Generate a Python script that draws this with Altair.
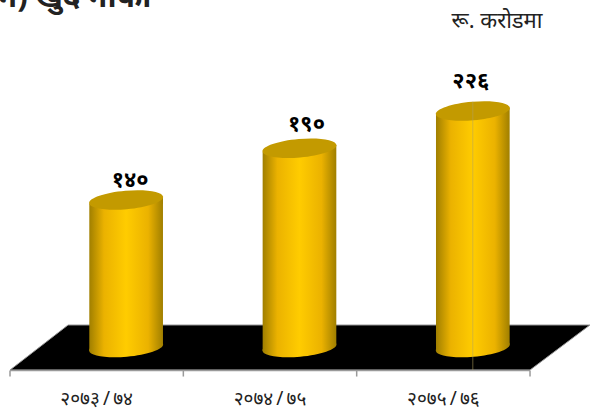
import altair as alt
import pandas as pd

# Net profit by fiscal year, in crore rupees
years = ["२०७३\u2009/\u2009७४", "२०७४\u2009/\u2009७५", "२०७५\u2009/\u2009७६"]
profit = [140, 190, 226]
value_labels = ["१४०", "१९०", "२२६"]
heading = "ग) खुद नाफा"
unit_note = "रू. करोडमा"

FONT = "Noto Sans"
X_DOMAIN = [-0.0577, 3.346]
Y_DOMAIN = [-60.9, 333.3]
DEPTH = 0.17      # shift of the columns towards the back of the floor
HALF_WIDTH = 0.2125
TILT = 3.2        # rise of the rim across half a column, in value units
FOOT = -2.5       # where the column feet stand on the floor

x_scale = alt.Scale(domain=X_DOMAIN, nice=False, zero=False)
y_scale = alt.Scale(domain=Y_DOMAIN, nice=False, zero=False)
X = lambda f: alt.X(f, type="quantitative", scale=x_scale, axis=None)
Y = lambda f: alt.Y(f, type="quantitative", scale=y_scale, axis=None)

body_fill = alt.Gradient(
    gradient="linear", x1=0, x2=1, y1=0, y2=0,
    stops=[
        alt.GradientStop(offset=0, color="#a07f00"),
        alt.GradientStop(offset=0.2, color="#ebb200"),
        alt.GradientStop(offset=0.5, color="#ffcc00"),
        alt.GradientStop(offset=0.8, color="#ebb200"),
        alt.GradientStop(offset=1, color="#a07f00"),
    ],
)
RIM = "M-1,0.087A1,0.25,-5,1,1,1,-0.087A1,0.25,-5,1,1,-1,0.087Z"
RIM_SIZE = 5476

# Floor of the plot, a parallelogram receding to the right
floor = pd.DataFrame({"v": [-24.2, 19.3], "left": [0, 0.335], "right": [3, 3.346]})
floor_mark = alt.Chart(floor).mark_area(
    orient="horizontal", color="black", stroke="#9a9a9a", strokeWidth=1
).encode(y=Y("v"), x=X("left"), x2="right")

# Front edge with tick marks at the category boundaries
edge = alt.Chart(pd.DataFrame({"a": [0], "b": [3], "v": [-24.6]})).mark_rule(
    color="#9a9a9a", strokeWidth=1.5
).encode(x=X("a"), x2="b", y=Y("v"))
ticks = alt.Chart(pd.DataFrame({"a": [0, 1, 2, 3], "lo": [-24.6] * 4, "hi": [-30.5] * 4})).mark_rule(
    color="#9a9a9a", strokeWidth=1.5
).encode(x=X("a"), y=Y("lo"), y2="hi")

centres = [i + 0.5 + DEPTH for i in range(len(profit))]

# Column sides: a slanted band from the floor up to the value
sides = pd.DataFrame(
    [
        {"year": years[i], "x": c + s * HALF_WIDTH, "top": profit[i] + s * TILT, "base": FOOT + s * TILT}
        for i, c in enumerate(centres)
        for s in (-1, 1)
    ]
)
side_marks = alt.layer(
    *[
        alt.Chart(sides[sides.year == y]).mark_area(fill=body_fill, opacity=1).encode(
            x=X("x"), y=Y("top"), y2="base"
        )
        for y in years
    ]
)

ends = pd.DataFrame({"x": centres, "v": profit, "foot": [FOOT] * 3})
bottoms = alt.layer(
    *[
        alt.Chart(ends.iloc[[i]]).mark_point(
            shape=RIM, size=RIM_SIZE, filled=True, fill=body_fill, opacity=1
        ).encode(x=X("x"), y=Y("foot"))
        for i in range(len(profit))
    ]
)
tops = alt.Chart(ends).mark_point(
    shape=RIM, size=RIM_SIZE, filled=True, fill="#c39a00", opacity=1
).encode(x=X("x"), y=Y("v"))

# Hairline through the last column
seam = alt.Chart(pd.DataFrame({"x": [centres[2]], "a": [profit[2] + 9], "b": [-24.2]})).mark_rule(
    color="#b0a060", strokeWidth=0.7, opacity=0.8
).encode(x=X("x"), y=Y("a"), y2="b")


def value_label(i, dx, dy):
    row = pd.DataFrame({"x": [centres[i]], "v": [profit[i]], "t": [value_labels[i]]})
    return alt.Chart(row).mark_text(
        font=FONT, fontSize=22, fontWeight="bold", color="black", dx=dx, dy=dy
    ).encode(x=X("x"), y=Y("v"), text="t:N")


year_labels = alt.Chart(
    pd.DataFrame({"x": [i + 0.5 for i in range(3)], "t": years})
).mark_text(font=FONT, fontSize=19, color="#222222").encode(
    x=X("x"), y=alt.value(399), text="t:N"
)

title_text = alt.Chart(pd.DataFrame({"t": [heading]})).mark_text(
    font=FONT, fontSize=31, fontWeight="bold", align="left", baseline="alphabetic", color="#222222"
).encode(x=alt.value(-2), y=alt.value(7), text="t:N")

note_text = alt.Chart(pd.DataFrame({"t": [unit_note]})).mark_text(
    font=FONT, fontSize=22, color="#222222"
).encode(x=alt.value(497), y=alt.value(21), text="t:N")

chart = alt.layer(
    floor_mark, edge, ticks, bottoms, side_marks, tops, seam,
    value_label(0, 4, -20), value_label(1, 7, -24), value_label(2, -2, -30),
    year_labels, title_text, note_text,
).properties(
    width=590, height=408, padding=0, background="white",
    autosize=alt.AutoSizeParams(type="none"),
).configure_view(stroke=None)

chart.save("out.html", embed_options={"renderer": "svg", "actions": False})
